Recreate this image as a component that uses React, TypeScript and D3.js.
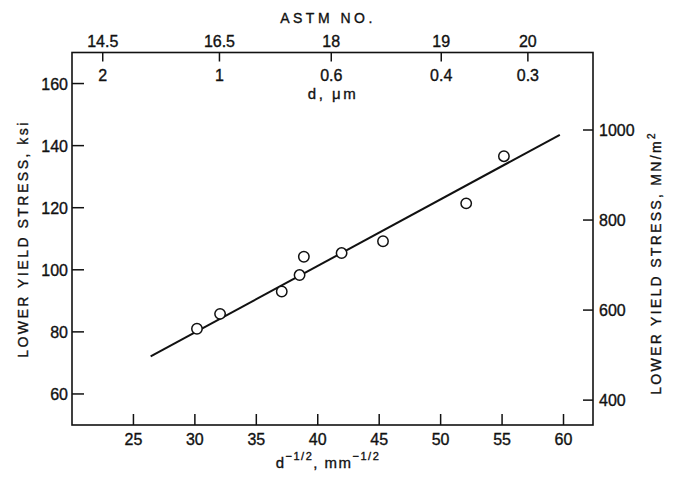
import React from "react";
import * as d3 from "d3";

// data: x = d^-1/2 (mm^-1/2), y = lower yield stress (ksi)
const pointsX = [30.17, 32.05, 37.07, 38.52, 38.87, 41.94, 45.31, 52.08, 55.15];
const pointsY = [81.0, 85.8, 93.0, 98.3, 104.2, 105.4, 109.2, 121.4, 136.6];
const fitX = [26.4, 59.7];
const fitY = [72.1, 143.5];

const bottomTicks = [25, 30, 35, 40, 45, 50, 55, 60];
const leftTicks = [60, 80, 100, 120, 140, 160];
const rightTicks = [400, 600, 800, 1000];
const topTickPos = [22.5, 32.0, 41.1, 50.05, 57.1];
const astmLabels = ["14.5", "16.5", "18", "19", "20"];
const dLabels = ["2", "1", "0.6", "0.4", "0.3"];
const KSI_TO_MPA = 6.895;

const W = 674;
const H = 477;
const FONT = "'Liberation Sans', Arial, sans-serif";
const TS = { stroke: "#111", strokeWidth: 0.35 } as const;

export default function App() {
  const x = d3.scaleLinear().domain([20, 62.4]).range([72, 593]);
  const y = d3.scaleLinear().domain([50, 170]).range([425, 52.5]);
  const yR = d3
    .scaleLinear()
    .domain([50 * KSI_TO_MPA, 170 * KSI_TO_MPA])
    .range([425, 52.5]);

  const line = d3
    .line<number>()
    .x((_, i) => x(fitX[i]))
    .y((v) => y(v));

  const [x0, x1] = x.range();
  const [yb, yt] = y.range();

  return (
    <svg
      width={W}
      height={H}
      style={{ position: "absolute", left: 0, top: 0, background: "#fff" }}
      fontFamily={FONT}
    >
      {/* frame */}
      <rect
        x={x0}
        y={yt}
        width={x1 - x0}
        height={yb - yt}
        fill="none"
        stroke="#111"
        strokeWidth={1.6}
      />

      {/* bottom ticks */}
      {bottomTicks.map((t) => (
        <g key={"b" + t}>
          <line x1={x(t)} x2={x(t)} y1={yb} y2={yb - 11} stroke="#111" strokeWidth={1.5} />
          <text x={x(t)} y={445} fontSize={16} textAnchor="middle" fill="#111" {...TS}>
            {t}
          </text>
        </g>
      ))}

      {/* left ticks */}
      {leftTicks.map((t) => (
        <g key={"l" + t}>
          <line x1={x0} x2={x0 + 12} y1={y(t)} y2={y(t)} stroke="#111" strokeWidth={1.5} />
          <text x={68} y={y(t) + 6} fontSize={16} textAnchor="end" fill="#111" {...TS}>
            {t}
          </text>
        </g>
      ))}

      {/* right ticks */}
      {rightTicks.map((t) => (
        <g key={"r" + t}>
          <line x1={x1} x2={x1 - 10} y1={yR(t)} y2={yR(t)} stroke="#111" strokeWidth={1.5} />
          <text x={599} y={yR(t) + 6} fontSize={16} textAnchor="start" fill="#111" {...TS}>
            {t}
          </text>
        </g>
      ))}

      {/* top ticks */}
      {topTickPos.map((p, i) => (
        <g key={"t" + i}>
          <line x1={x(p)} x2={x(p)} y1={yt} y2={yt + 9} stroke="#111" strokeWidth={1.5} />
          <text x={x(p)} y={47} fontSize={16} textAnchor="middle" fill="#111" {...TS}>
            {astmLabels[i]}
          </text>
          <text x={x(p)} y={81} fontSize={16} textAnchor="middle" fill="#111" {...TS}>
            {dLabels[i]}
          </text>
        </g>
      ))}

      {/* fit line */}
      <path d={line(fitY) || ""} fill="none" stroke="#111" strokeWidth={2} />

      {/* points */}
      {pointsX.map((px, i) => (
        <circle
          key={"p" + i}
          cx={x(px)}
          cy={y(pointsY[i])}
          r={5.2}
          fill="#fff"
          stroke="#111"
          strokeWidth={1.5}
        />
      ))}

      {/* titles */}
      <text x={328} y={23} fontSize={14} textAnchor="middle" letterSpacing={3.5} fill="#111" {...TS}>
        ASTM NO.
      </text>
      <text x={333} y={99} fontSize={15} textAnchor="middle" letterSpacing={2.5} fill="#111" {...TS}>
        d, μm
      </text>
      <text x={328} y={468} fontSize={15} textAnchor="middle" letterSpacing={1.5} fill="#111" {...TS}>
        <tspan>d</tspan>
        <tspan dy={-8} fontSize={11}>−1/2</tspan>
        <tspan dy={8}>, mm</tspan>
        <tspan dy={-8} fontSize={11}>−1/2</tspan>
      </text>
      <text
        transform={`translate(28, 239) rotate(-90)`}
        fontSize={14}
        textAnchor="middle"
        letterSpacing={2.5}
        fill="#111"
        {...TS}
      >
        LOWER YIELD STRESS, ksi
      </text>
      <text
        transform={`translate(661, 263) rotate(-90)`}
        fontSize={14}
        textAnchor="middle"
        letterSpacing={2.3}
        fill="#111"
        {...TS}
      >
        <tspan>LOWER YIELD STRESS, MN/m</tspan>
        <tspan dy={-6} fontSize={10}>2</tspan>
      </text>
    </svg>
  );
}
